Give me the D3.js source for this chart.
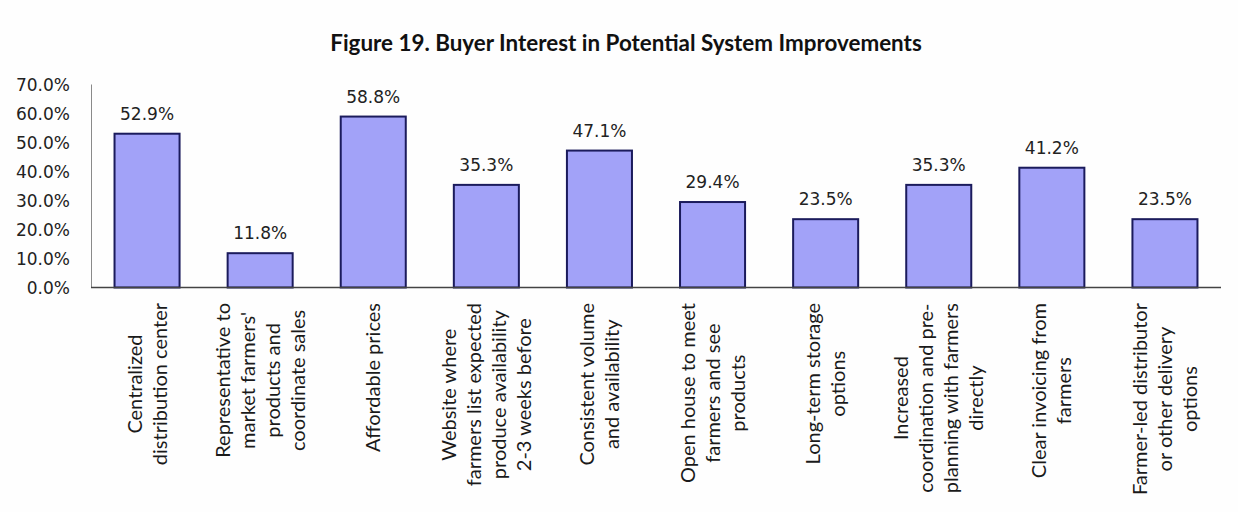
<!DOCTYPE html>
<html>
<head>
<meta charset="utf-8">
<script src="https://cdn.jsdelivr.net/npm/d3@7"></script>
<style>
  html, body { margin: 0; padding: 0; background: #fefefe; }
  svg { display: block; }
</style>
</head>
<body>
<svg id="chart" width="1238" height="512"></svg>
<script>
// Survey results: share of buyers interested in each improvement
const categories = [
  ["Centralized", "distribution center"],
  ["Representative to", "market farmers'", "products and", "coordinate sales"],
  ["Affordable prices"],
  ["Website where", "farmers list expected", "produce availability", "2-3 weeks before"],
  ["Consistent volume", "and availability"],
  ["Open house to meet", "farmers and see", "products"],
  ["Long-term storage", "options"],
  ["Increased", "coordination and pre-", "planning with farmers", "directly"],
  ["Clear invoicing from", "farmers"],
  ["Farmer-led distributor", "or other delivery", "options"]
];
const values = [52.9, 11.8, 58.8, 35.3, 47.1, 29.4, 23.5, 35.3, 41.2, 23.5];
const yTicks = [0, 10, 20, 30, 40, 50, 60, 70];
const title = "Figure 19. Buyer Interest in Potential System Improvements";

const svg = d3.select("#chart");
const ids = categories.map((c, i) => i);

const x = d3.scaleBand()
  .domain(ids)
  .range([90.5, 1221.5])
  .paddingInner(0.425)
  .paddingOuter(0.2125);

const y = d3.scaleLinear()
  .domain([0, 70])
  .range([287.5, 84]);

// Title
svg.append("text")
  .attr("x", 626)
  .attr("y", 51)
  .attr("text-anchor", "middle")
  .style("font-family", "Lato, 'Open Sans', sans-serif")
  .style("font-weight", "bold")
  .style("font-size", "22.4px")
  .style("fill", "#111")
  .text(title);

// Y axis
const yAxis = d3.axisLeft(y)
  .tickValues(yTicks)
  .tickSize(0)
  .tickPadding(21)
  .tickFormat(d => d.toFixed(1) + "%");

const gy = svg.append("g")
  .attr("transform", "translate(91,0)")
  .call(yAxis);
gy.select(".domain").attr("stroke", "#8a8a8a").attr("stroke-width", 1);
gy.selectAll("text")
  .style("font-family", "'DejaVu Sans', Verdana, sans-serif")
  .style("font-size", "17px")
  .style("fill", "#222")
  .attr("dy", "0.36em");

// Bars
svg.append("g")
  .selectAll("rect")
  .data(values)
  .join("rect")
  .attr("x", (d, i) => x(i))
  .attr("y", d => y(d))
  .attr("width", x.bandwidth())
  .attr("height", d => y(0) - y(d))
  .attr("fill", "#a2a2f8")
  .attr("stroke", "#1b1b5c")
  .attr("stroke-width", 2);

// Baseline
svg.append("line")
  .attr("x1", 91)
  .attr("x2", 1221)
  .attr("y1", y(0))
  .attr("y2", y(0))
  .attr("stroke", "#444")
  .attr("stroke-width", 1.3);

// Value labels
svg.append("g")
  .selectAll("text")
  .data(values)
  .join("text")
  .attr("x", (d, i) => x(i) + x.bandwidth() / 2)
  .attr("y", d => y(d) - 14)
  .attr("text-anchor", "middle")
  .style("font-family", "'DejaVu Sans', Verdana, sans-serif")
  .style("font-size", "17px")
  .style("fill", "#222")
  .text(d => d.toFixed(1) + "%");

// Category labels, rotated, lines centred on each other, block centred on bar
const lineGap = 25;
const labelTop = 303;
const catG = svg.append("g");
categories.forEach((lines, i) => {
  const cx = x(i) + x.bandwidth() / 2;
  const g = catG.append("g");
  const texts = lines.map((ln, j) => g.append("text")
    .attr("text-anchor", "middle")
    .style("font-family", "Lato, 'Open Sans', sans-serif")
    .style("font-size", "20px")
    .style("fill", "#1a1a1a")
    .text(ln));
  const maxW = d3.max(texts, t => t.node().getComputedTextLength());
  const n = lines.length;
  texts.forEach((t, j) => {
    // rotated frame: x' runs upward along the page, y' runs right
    t.attr("x", -(labelTop + maxW / 2))
     .attr("y", (j - (n - 1) / 2) * lineGap)
     .attr("dy", "0.35em");
  });
  g.attr("transform", `translate(${cx},0) rotate(-90)`);
});
</script>
</body>
</html>
